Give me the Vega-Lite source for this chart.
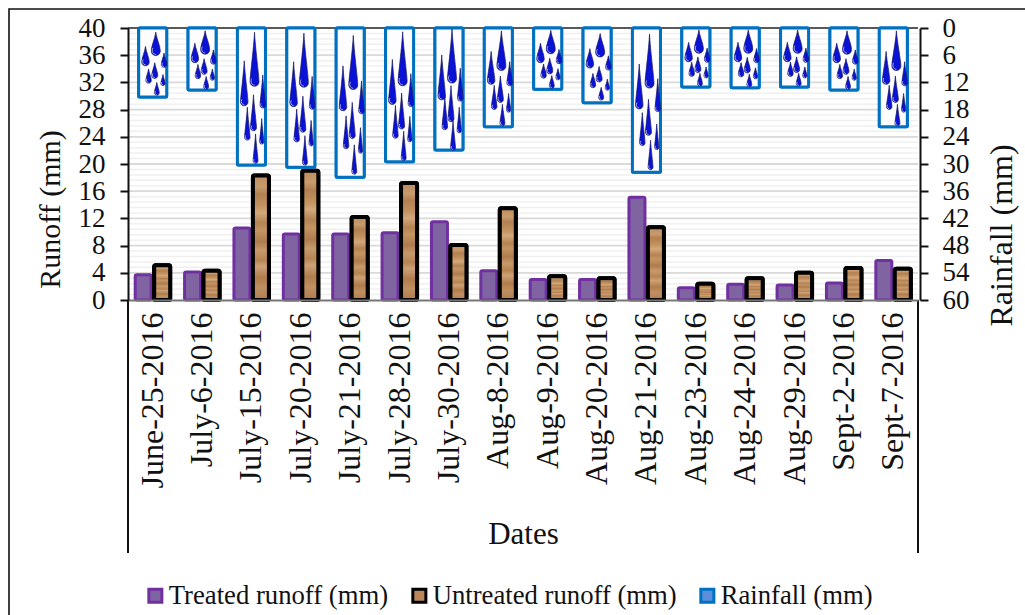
{
  "$schema": "https://vega.github.io/schema/vega-lite/v6.json",
  "width": 1018,
  "height": 608,
  "autosize": {"type": "none"},
  "padding": {"left": 9, "top": 9, "right": -2, "bottom": -2},
  "background": "white",
  "view": {"stroke": "#111111", "strokeWidth": 1.6, "fill": "white"},
  "config": {"font": "Liberation Serif"},
  "datasets": {
    "runoff": [
      {"date": "June-25-2016", "series": "Treated runoff (mm)", "runoff": 3.7},
      {"date": "July-6-2016", "series": "Treated runoff (mm)", "runoff": 4.1},
      {"date": "July-15-2016", "series": "Treated runoff (mm)", "runoff": 10.6},
      {"date": "July-20-2016", "series": "Treated runoff (mm)", "runoff": 9.7},
      {"date": "July-21-2016", "series": "Treated runoff (mm)", "runoff": 9.7},
      {"date": "July-28-2016", "series": "Treated runoff (mm)", "runoff": 9.9},
      {"date": "July-30-2016", "series": "Treated runoff (mm)", "runoff": 11.5},
      {"date": "Aug-8-2016", "series": "Treated runoff (mm)", "runoff": 4.3},
      {"date": "Aug-9-2016", "series": "Treated runoff (mm)", "runoff": 3.0},
      {"date": "Aug-20-2016", "series": "Treated runoff (mm)", "runoff": 3.0},
      {"date": "Aug-21-2016", "series": "Treated runoff (mm)", "runoff": 15.1},
      {"date": "Aug-23-2016", "series": "Treated runoff (mm)", "runoff": 1.8},
      {"date": "Aug-24-2016", "series": "Treated runoff (mm)", "runoff": 2.3},
      {"date": "Aug-29-2016", "series": "Treated runoff (mm)", "runoff": 2.2},
      {"date": "Sept-2-2016", "series": "Treated runoff (mm)", "runoff": 2.5},
      {"date": "Sept-7-2016", "series": "Treated runoff (mm)", "runoff": 5.8},
      {"date": "June-25-2016", "series": "Untreated runoff (mm)", "runoff": 5.1},
      {"date": "July-6-2016", "series": "Untreated runoff (mm)", "runoff": 4.3},
      {"date": "July-15-2016", "series": "Untreated runoff (mm)", "runoff": 18.3},
      {"date": "July-20-2016", "series": "Untreated runoff (mm)", "runoff": 19.0},
      {"date": "July-21-2016", "series": "Untreated runoff (mm)", "runoff": 12.2},
      {"date": "July-28-2016", "series": "Untreated runoff (mm)", "runoff": 17.2},
      {"date": "July-30-2016", "series": "Untreated runoff (mm)", "runoff": 8.1},
      {"date": "Aug-8-2016", "series": "Untreated runoff (mm)", "runoff": 13.5},
      {"date": "Aug-9-2016", "series": "Untreated runoff (mm)", "runoff": 3.5},
      {"date": "Aug-20-2016", "series": "Untreated runoff (mm)", "runoff": 3.2},
      {"date": "Aug-21-2016", "series": "Untreated runoff (mm)", "runoff": 10.7},
      {"date": "Aug-23-2016", "series": "Untreated runoff (mm)", "runoff": 2.4},
      {"date": "Aug-24-2016", "series": "Untreated runoff (mm)", "runoff": 3.2},
      {"date": "Aug-29-2016", "series": "Untreated runoff (mm)", "runoff": 4.0},
      {"date": "Sept-2-2016", "series": "Untreated runoff (mm)", "runoff": 4.7},
      {"date": "Sept-7-2016", "series": "Untreated runoff (mm)", "runoff": 4.6}
    ],
    "rain": [
      {"date": "June-25-2016", "series": "Rainfall (mm)", "rain": 15.2},
      {"date": "July-6-2016", "series": "Rainfall (mm)", "rain": 13.7},
      {"date": "July-15-2016", "series": "Rainfall (mm)", "rain": 30.2},
      {"date": "July-20-2016", "series": "Rainfall (mm)", "rain": 30.7},
      {"date": "July-21-2016", "series": "Rainfall (mm)", "rain": 32.9},
      {"date": "July-28-2016", "series": "Rainfall (mm)", "rain": 29.5},
      {"date": "July-30-2016", "series": "Rainfall (mm)", "rain": 26.9},
      {"date": "Aug-8-2016", "series": "Rainfall (mm)", "rain": 21.8},
      {"date": "Aug-9-2016", "series": "Rainfall (mm)", "rain": 13.5},
      {"date": "Aug-20-2016", "series": "Rainfall (mm)", "rain": 16.5},
      {"date": "Aug-21-2016", "series": "Rainfall (mm)", "rain": 31.8},
      {"date": "Aug-23-2016", "series": "Rainfall (mm)", "rain": 13.0},
      {"date": "Aug-24-2016", "series": "Rainfall (mm)", "rain": 13.2},
      {"date": "Aug-29-2016", "series": "Rainfall (mm)", "rain": 13.0},
      {"date": "Sept-2-2016", "series": "Rainfall (mm)", "rain": 13.7},
      {"date": "Sept-7-2016", "series": "Rainfall (mm)", "rain": 21.8}
    ],
    "drops": [
      {"date":"June-25-2016","drop":"A","depth":3.5,"intensity":"light"},{"date":"June-25-2016","drop":"B","depth":6.2,"intensity":"light"},{"date":"June-25-2016","drop":"C","depth":7.1,"intensity":"light"},{"date":"June-25-2016","drop":"D","depth":10.6,"intensity":"light"},{"date":"June-25-2016","drop":"E","depth":9.4,"intensity":"light"},{"date":"June-25-2016","drop":"F","depth":11.5,"intensity":"light"},{"date":"June-25-2016","drop":"G","depth":13.4,"intensity":"light"},
      {"date":"July-6-2016","drop":"A","depth":3.2,"intensity":"light"},{"date":"July-6-2016","drop":"B","depth":5.5,"intensity":"light"},{"date":"July-6-2016","drop":"C","depth":6.4,"intensity":"light"},{"date":"July-6-2016","drop":"D","depth":9.6,"intensity":"light"},{"date":"July-6-2016","drop":"E","depth":8.5,"intensity":"light"},{"date":"July-6-2016","drop":"F","depth":10.3,"intensity":"light"},{"date":"July-6-2016","drop":"G","depth":12.1,"intensity":"light"},
      {"date":"July-15-2016","drop":"A","depth":6.9,"intensity":"heavy"},{"date":"July-15-2016","drop":"B","depth":12.2,"intensity":"heavy"},{"date":"July-15-2016","drop":"C","depth":14.0,"intensity":"heavy"},{"date":"July-15-2016","drop":"D","depth":21.1,"intensity":"heavy"},{"date":"July-15-2016","drop":"E","depth":18.7,"intensity":"heavy"},{"date":"July-15-2016","drop":"F","depth":22.8,"intensity":"heavy"},{"date":"July-15-2016","drop":"G","depth":26.6,"intensity":"heavy"},
      {"date":"July-20-2016","drop":"A","depth":7.1,"intensity":"heavy"},{"date":"July-20-2016","drop":"B","depth":12.4,"intensity":"heavy"},{"date":"July-20-2016","drop":"C","depth":14.3,"intensity":"heavy"},{"date":"July-20-2016","drop":"D","depth":21.5,"intensity":"heavy"},{"date":"July-20-2016","drop":"E","depth":19.0,"intensity":"heavy"},{"date":"July-20-2016","drop":"F","depth":23.2,"intensity":"heavy"},{"date":"July-20-2016","drop":"G","depth":27.0,"intensity":"heavy"},
      {"date":"July-21-2016","drop":"A","depth":7.6,"intensity":"heavy"},{"date":"July-21-2016","drop":"B","depth":13.3,"intensity":"heavy"},{"date":"July-21-2016","drop":"C","depth":15.3,"intensity":"heavy"},{"date":"July-21-2016","drop":"D","depth":23.0,"intensity":"heavy"},{"date":"July-21-2016","drop":"E","depth":20.4,"intensity":"heavy"},{"date":"July-21-2016","drop":"F","depth":24.8,"intensity":"heavy"},{"date":"July-21-2016","drop":"G","depth":29.0,"intensity":"heavy"},
      {"date":"July-28-2016","drop":"A","depth":6.8,"intensity":"heavy"},{"date":"July-28-2016","drop":"B","depth":11.9,"intensity":"heavy"},{"date":"July-28-2016","drop":"C","depth":13.7,"intensity":"heavy"},{"date":"July-28-2016","drop":"D","depth":20.7,"intensity":"heavy"},{"date":"July-28-2016","drop":"E","depth":18.3,"intensity":"heavy"},{"date":"July-28-2016","drop":"F","depth":22.3,"intensity":"heavy"},{"date":"July-28-2016","drop":"G","depth":26.0,"intensity":"heavy"},
      {"date":"July-30-2016","drop":"A","depth":6.2,"intensity":"heavy"},{"date":"July-30-2016","drop":"B","depth":10.9,"intensity":"heavy"},{"date":"July-30-2016","drop":"C","depth":12.5,"intensity":"heavy"},{"date":"July-30-2016","drop":"D","depth":18.8,"intensity":"heavy"},{"date":"July-30-2016","drop":"E","depth":16.7,"intensity":"heavy"},{"date":"July-30-2016","drop":"F","depth":20.3,"intensity":"heavy"},{"date":"July-30-2016","drop":"G","depth":23.7,"intensity":"heavy"},
      {"date":"Aug-8-2016","drop":"A","depth":5.0,"intensity":"moderate"},{"date":"Aug-8-2016","drop":"B","depth":8.8,"intensity":"moderate"},{"date":"Aug-8-2016","drop":"C","depth":10.1,"intensity":"moderate"},{"date":"Aug-8-2016","drop":"D","depth":15.3,"intensity":"moderate"},{"date":"Aug-8-2016","drop":"E","depth":13.5,"intensity":"moderate"},{"date":"Aug-8-2016","drop":"F","depth":16.5,"intensity":"moderate"},{"date":"Aug-8-2016","drop":"G","depth":19.2,"intensity":"moderate"},
      {"date":"Aug-9-2016","drop":"A","depth":3.1,"intensity":"light"},{"date":"Aug-9-2016","drop":"B","depth":5.5,"intensity":"light"},{"date":"Aug-9-2016","drop":"C","depth":6.3,"intensity":"light"},{"date":"Aug-9-2016","drop":"D","depth":9.5,"intensity":"light"},{"date":"Aug-9-2016","drop":"E","depth":8.4,"intensity":"light"},{"date":"Aug-9-2016","drop":"F","depth":10.2,"intensity":"light"},{"date":"Aug-9-2016","drop":"G","depth":11.9,"intensity":"light"},
      {"date":"Aug-20-2016","drop":"A","depth":3.8,"intensity":"light"},{"date":"Aug-20-2016","drop":"B","depth":6.7,"intensity":"light"},{"date":"Aug-20-2016","drop":"C","depth":7.7,"intensity":"light"},{"date":"Aug-20-2016","drop":"D","depth":11.6,"intensity":"light"},{"date":"Aug-20-2016","drop":"E","depth":10.2,"intensity":"light"},{"date":"Aug-20-2016","drop":"F","depth":12.5,"intensity":"light"},{"date":"Aug-20-2016","drop":"G","depth":14.5,"intensity":"light"},
      {"date":"Aug-21-2016","drop":"A","depth":7.3,"intensity":"heavy"},{"date":"Aug-21-2016","drop":"B","depth":12.9,"intensity":"heavy"},{"date":"Aug-21-2016","drop":"C","depth":14.8,"intensity":"heavy"},{"date":"Aug-21-2016","drop":"D","depth":22.3,"intensity":"heavy"},{"date":"Aug-21-2016","drop":"E","depth":19.7,"intensity":"heavy"},{"date":"Aug-21-2016","drop":"F","depth":24.0,"intensity":"heavy"},{"date":"Aug-21-2016","drop":"G","depth":28.0,"intensity":"heavy"},
      {"date":"Aug-23-2016","drop":"A","depth":3.0,"intensity":"light"},{"date":"Aug-23-2016","drop":"B","depth":5.3,"intensity":"light"},{"date":"Aug-23-2016","drop":"C","depth":6.0,"intensity":"light"},{"date":"Aug-23-2016","drop":"D","depth":9.1,"intensity":"light"},{"date":"Aug-23-2016","drop":"E","depth":8.1,"intensity":"light"},{"date":"Aug-23-2016","drop":"F","depth":9.8,"intensity":"light"},{"date":"Aug-23-2016","drop":"G","depth":11.4,"intensity":"light"},
      {"date":"Aug-24-2016","drop":"A","depth":3.0,"intensity":"light"},{"date":"Aug-24-2016","drop":"B","depth":5.3,"intensity":"light"},{"date":"Aug-24-2016","drop":"C","depth":6.1,"intensity":"light"},{"date":"Aug-24-2016","drop":"D","depth":9.2,"intensity":"light"},{"date":"Aug-24-2016","drop":"E","depth":8.2,"intensity":"light"},{"date":"Aug-24-2016","drop":"F","depth":10.0,"intensity":"light"},{"date":"Aug-24-2016","drop":"G","depth":11.6,"intensity":"light"},
      {"date":"Aug-29-2016","drop":"A","depth":3.0,"intensity":"light"},{"date":"Aug-29-2016","drop":"B","depth":5.3,"intensity":"light"},{"date":"Aug-29-2016","drop":"C","depth":6.0,"intensity":"light"},{"date":"Aug-29-2016","drop":"D","depth":9.1,"intensity":"light"},{"date":"Aug-29-2016","drop":"E","depth":8.1,"intensity":"light"},{"date":"Aug-29-2016","drop":"F","depth":9.8,"intensity":"light"},{"date":"Aug-29-2016","drop":"G","depth":11.4,"intensity":"light"},
      {"date":"Sept-2-2016","drop":"A","depth":3.2,"intensity":"light"},{"date":"Sept-2-2016","drop":"B","depth":5.5,"intensity":"light"},{"date":"Sept-2-2016","drop":"C","depth":6.4,"intensity":"light"},{"date":"Sept-2-2016","drop":"D","depth":9.6,"intensity":"light"},{"date":"Sept-2-2016","drop":"E","depth":8.5,"intensity":"light"},{"date":"Sept-2-2016","drop":"F","depth":10.3,"intensity":"light"},{"date":"Sept-2-2016","drop":"G","depth":12.1,"intensity":"light"},
      {"date":"Sept-7-2016","drop":"A","depth":5.0,"intensity":"moderate"},{"date":"Sept-7-2016","drop":"B","depth":8.8,"intensity":"moderate"},{"date":"Sept-7-2016","drop":"C","depth":10.1,"intensity":"moderate"},{"date":"Sept-7-2016","drop":"D","depth":15.3,"intensity":"moderate"},{"date":"Sept-7-2016","drop":"E","depth":13.5,"intensity":"moderate"},{"date":"Sept-7-2016","drop":"F","depth":16.5,"intensity":"moderate"},{"date":"Sept-7-2016","drop":"G","depth":19.2,"intensity":"moderate"}
    ],
    "minorLevels": [
      {"level":0.8},{"level":1.6},{"level":2.4},{"level":3.2},{"level":4.8},{"level":5.6},{"level":6.4},{"level":7.2},
      {"level":8.8},{"level":9.6},{"level":10.4},{"level":11.2},{"level":12.8},{"level":13.6},{"level":14.4},{"level":15.2},
      {"level":16.8},{"level":17.6},{"level":18.4},{"level":19.2},{"level":20.8},{"level":21.6},{"level":22.4},{"level":23.2},
      {"level":24.8},{"level":25.6},{"level":26.4},{"level":27.2},{"level":28.8},{"level":29.6},{"level":30.4},{"level":31.2},
      {"level":32.8},{"level":33.6},{"level":34.4},{"level":35.2},{"level":36.8},{"level":37.6},{"level":38.4},{"level":39.2}
    ],
    "majorLevels": [
      {"level":4},{"level":8},{"level":12},{"level":16},{"level":20},{"level":24},{"level":28},{"level":32},{"level":36}
    ],
    "plotTop": [{"level":40}]
  },
  "layer": [
    {
      "data": {"name": "minorLevels"},
      "mark": {"type": "rule", "stroke": "#f0f0f0", "strokeWidth": 1.5},
      "encoding": {
        "x": {
          "datum": "June-25-2016",
          "type": "nominal",
          "bandPosition": 0,
          "scale": {
            "domain": ["June-25-2016","July-6-2016","July-15-2016","July-20-2016","July-21-2016","July-28-2016","July-30-2016","Aug-8-2016","Aug-9-2016","Aug-20-2016","Aug-21-2016","Aug-23-2016","Aug-24-2016","Aug-29-2016","Sept-2-2016","Sept-7-2016"],
            "range": [119, 909],
            "paddingInner": 0,
            "paddingOuter": 0
          },
          "axis": {
            "title": "Dates",
            "orient": "bottom",
            "offset": -317,
            "labelAngle": -90,
            "labelAlign": "right",
            "labelBaseline": "middle",
            "labelFontSize": 32,
            "labelColor": "#111111",
            "labelPadding": 12,
            "labelOverlap": false,
            "labelLimit": 300,
            "ticks": false,
            "domainColor": "#777777",
            "domainWidth": 2,
            "titleFontSize": 31,
            "titleFontWeight": "normal",
            "titleColor": "#111111",
            "titlePadding": 32,
            "grid": false,
            "zindex": 1
          }
        },
        "x2": {"datum": "Sept-7-2016", "bandPosition": 1},
        "y": {"field": "level", "type": "quantitative", "scale": {"domain": [0, 40], "range": [291, 19], "nice": false}, "axis": null}
      }
    },
    {
      "data": {"name": "majorLevels"},
      "mark": {"type": "rule", "stroke": "#d9d9d9", "strokeWidth": 1.8},
      "encoding": {
        "x": {"datum": "June-25-2016", "type": "nominal", "bandPosition": 0},
        "x2": {"datum": "Sept-7-2016", "bandPosition": 1},
        "y": {"field": "level", "type": "quantitative", "scale": {"domain": [0, 40], "range": [291, 19], "nice": false}, "axis": null}
      }
    },
    {
      "data": {"name": "plotTop"},
      "mark": {"type": "rule", "stroke": "#222222", "strokeWidth": 1.5},
      "encoding": {
        "x": {"datum": "June-25-2016", "type": "nominal", "bandPosition": 0},
        "x2": {"datum": "Sept-7-2016", "bandPosition": 1},
        "y": {"field": "level", "type": "quantitative", "scale": {"domain": [0, 40], "range": [291, 19], "nice": false}, "axis": null}
      }
    },
    {
      "data": {"name": "runoff"},
      "mark": {"type": "bar", "width": 16, "cornerRadius": 1.5, "strokeJoin": "round"},
      "encoding": {
        "x": {"field": "date", "type": "nominal", "sort": null},
        "xOffset": {"field": "series", "type": "nominal", "sort": null, "scale": {"domain": ["Treated runoff (mm)", "Untreated runoff (mm)"], "paddingInner": 0, "paddingOuter": 0.3}},
        "y": {
          "field": "runoff",
          "type": "quantitative",
          "stack": null,
          "scale": {"domain": [0, 40], "range": [291, 19], "nice": false},
          "axis": {
            "title": "Runoff (mm)",
            "orient": "left",
            "offset": -119,
            "values": [0,4,8,12,16,20,24,28,32,36,40],
            "grid": false,
            "domainColor": "#111111",
            "domainWidth": 2,
            "tickColor": "#111111",
            "tickWidth": 2,
            "tickSize": 8,
            "labelFontSize": 27,
            "labelColor": "#111111",
            "labelPadding": 15,
            "titleFontSize": 30,
            "titleFontWeight": "normal",
            "titleColor": "#111111",
            "titleX": -78,
            "titleY": 200,
            "titleAlign": "center",
            "titleBaseline": "middle",
            "zindex": 1
          }
        },
        "fill": {
          "field": "series",
          "type": "nominal",
          "scale": {
            "domain": ["Treated runoff (mm)", "Untreated runoff (mm)", "Rainfall (mm)"],
            "range": ["#8064A2", "#B9875A", "#5B8FDD"]
          },
          "legend": {
            "title": null,
            "orient": "none",
            "legendX": 133,
            "legendY": 573,
            "direction": "horizontal",
            "columns": 3,
            "columnPadding": 17,
            "symbolType": "square",
            "symbolSize": 170,
            "symbolStrokeWidth": 3,
            "labelFontSize": 26.7,
            "labelColor": "#111111",
            "labelOffset": 0,
            "labelLimit": 320
          }
        },
        "stroke": {
          "field": "series",
          "type": "nominal",
          "scale": {
            "domain": ["Treated runoff (mm)", "Untreated runoff (mm)", "Rainfall (mm)"],
            "range": ["#7030A0", "#000000", "#0070C0"]
          }
        },
        "strokeWidth": {
          "field": "series",
          "type": "nominal",
          "legend": null,
          "scale": {"type": "ordinal", "domain": ["Treated runoff (mm)", "Untreated runoff (mm)"], "range": [3, 4]}
        }
      }
    },
    {
      "data": {"name": "runoff"},
      "transform": [{"filter": "datum.series === 'Untreated runoff (mm)'"}],
      "mark": {
        "type": "bar",
        "width": 16,
        "cornerRadius": 1.5,
        "strokeJoin": "round",
        "stroke": "#000000",
        "strokeWidth": 4,
        "fill": {"gradient": "linear", "x1": 0, "y1": 0, "x2": 0, "y2": 1, "stops": [
          {"offset": 0, "color": "#BC8B5E"}, {"offset": 0.09, "color": "#C99C6C"}, {"offset": 0.15, "color": "#B28052"},
          {"offset": 0.24, "color": "#C3925F"}, {"offset": 0.3, "color": "#D2A87C"}, {"offset": 0.38, "color": "#B58353"},
          {"offset": 0.44, "color": "#C49562"}, {"offset": 0.53, "color": "#AE7B4D"}, {"offset": 0.6, "color": "#C79A6B"},
          {"offset": 0.68, "color": "#B78452"}, {"offset": 0.73, "color": "#CDA277"}, {"offset": 0.82, "color": "#B07C4C"},
          {"offset": 0.9, "color": "#C19060"}, {"offset": 1, "color": "#AE7C50"}
        ]}
      },
      "encoding": {
        "x": {"field": "date", "type": "nominal", "sort": null},
        "xOffset": {"field": "series", "type": "nominal", "sort": null, "scale": {"domain": ["Treated runoff (mm)", "Untreated runoff (mm)"], "paddingInner": 0, "paddingOuter": 0.3}},
        "y": {"field": "runoff", "type": "quantitative", "stack": null, "scale": {"domain": [0, 40], "range": [291, 19], "nice": false}, "axis": null}
      }
    },
    {
      "data": {"name": "rain"},
      "mark": {"type": "bar", "width": 28, "strokeWidth": 3, "cornerRadius": 1},
      "encoding": {
        "x": {"field": "date", "type": "nominal", "sort": null},
        "y": {
          "field": "rain",
          "type": "quantitative",
          "stack": null,
          "scale": {"domain": [0, 60], "range": [19, 291], "nice": false},
          "axis": {
            "title": "Rainfall (mm)",
            "orient": "right",
            "offset": -107,
            "values": [0,6,12,18,24,30,36,42,48,54,60],
            "grid": false,
            "domainColor": "#111111",
            "domainWidth": 2,
            "tickColor": "#111111",
            "tickWidth": 2,
            "tickSize": 8,
            "labelFontSize": 27,
            "labelColor": "#111111",
            "labelPadding": 14,
            "titleFontSize": 32,
            "titleFontWeight": "normal",
            "titleColor": "#111111",
            "titleAngle": 270,
            "titleX": 81,
            "titleY": 226,
            "titleAlign": "center",
            "titleBaseline": "middle",
            "zindex": 1
          }
        },
        "fill": {"field": "series", "type": "nominal"},
        "stroke": {"field": "series", "type": "nominal"}
      }
    },
    {
      "data": {"name": "rain"},
      "mark": {"type": "bar", "width": 28, "stroke": "#0070C0", "strokeWidth": 3, "cornerRadius": 1, "fill": "#FDFDFF"},
      "encoding": {
        "x": {"field": "date", "type": "nominal", "sort": null},
        "y": {"field": "rain", "type": "quantitative", "stack": null, "scale": {"domain": [0, 60], "range": [19, 291], "nice": false}, "axis": null}
      }
    },
    {
      "data": {"name": "drops"},
      "mark": {"type": "point", "filled": true, "fill": "#0A12D6", "stroke": "#15155F", "strokeWidth": 0.7, "opacity": 1},
      "encoding": {
        "x": {"field": "date", "type": "nominal", "sort": null},
        "xOffset": {
          "field": "drop",
          "type": "nominal",
          "scale": {
            "paddingInner": 0,
            "paddingOuter": 0,
            "domain": ["s0","s1","s2","s3","s4","s5","s6","s7","s8","s9","s10","s11","s12","s13","s14","s15","s16","B","s18","s19","D","s21","s22","s23","s24","s25","E","A","G","s29","s30","s31","s32","s33","F","C","s36","s37","s38","s39","s40","s41","s42","s43","s44","s45","s46","s47","s48"]
          }
        },
        "y": {"field": "depth", "type": "quantitative", "scale": {"domain": [0, 60], "range": [19, 291], "nice": false}, "axis": null},
        "size": {
          "field": "drop",
          "type": "nominal",
          "legend": null,
          "scale": {"type": "ordinal", "domain": ["A","B","C","D","E","F","G"], "range": [81, 56, 30, 30, 36, 18, 24]}
        },
        "shape": {
          "field": "intensity",
          "type": "nominal",
          "legend": null,
          "scale": {
            "domain": ["light", "moderate", "heavy"],
            "range": [
              "M0,-2.6C.15,-1.2 1,.4 1,1.6A1,1 0 1 1 -1,1.6C-1,.4 -.15,-1.2 0,-2.6Z",
              "M0,-4.4C.15,-2 1,2.2 1,3.4A1,1 0 1 1 -1,3.4C-1,2.2 -.15,-2 0,-4.4Z",
              "M0,-6C.15,-2.7 1,3.8 1,5A1,1 0 1 1 -1,5C-1,3.8 -.15,-2.7 0,-6Z"
            ]
          }
        }
      }
    },
    {
      "data": {"name": "drops"},
      "mark": {"type": "point", "filled": false, "stroke": "#B4B8D8", "strokeWidth": 0.9, "opacity": 1},
      "encoding": {
        "x": {"field": "date", "type": "nominal", "sort": null},
        "xOffset": {
          "field": "drop",
          "type": "nominal",
          "scale": {
            "paddingInner": 0,
            "paddingOuter": 0,
            "domain": ["s0","s1","s2","s3","s4","s5","s6","s7","s8","s9","s10","s11","s12","s13","s14","s15","s16","B","s18","s19","D","s21","s22","s23","s24","s25","E","A","G","s29","s30","s31","s32","s33","F","C","s36","s37","s38","s39","s40","s41","s42","s43","s44","s45","s46","s47","s48"]
          }
        },
        "y": {"field": "depth", "type": "quantitative", "scale": {"domain": [0, 60], "range": [19, 291], "nice": false}, "axis": null},
        "size": {
          "field": "drop",
          "type": "nominal",
          "legend": null,
          "scale": {"type": "ordinal", "domain": ["A","B","C","D","E","F","G"], "range": [81, 56, 30, 30, 36, 18, 24]}
        },
        "shape": {
          "field": "intensity",
          "type": "nominal",
          "legend": null,
          "scale": {
            "domain": ["light", "moderate", "heavy"],
            "range": [
              "M-.65,.9C-.95,1.6 -.7,2.3 0,2.35",
              "M-.65,2.7C-.95,3.4 -.7,4.1 0,4.15",
              "M-.65,4.3C-.95,5 -.7,5.7 0,5.75"
            ]
          }
        }
      }
    },
    {
      "data": {"name": "rain"},
      "transform": [{"filter": "datum.date === 'June-25-2016'"}],
      "mark": {"type": "rule", "stroke": "#111111", "strokeWidth": 2},
      "encoding": {
        "x": {"field": "date", "type": "nominal", "bandPosition": 0},
        "y": {"datum": 0, "type": "quantitative", "scale": {"domain": [0, 40], "range": [291, 19], "nice": false}, "axis": null},
        "y2": {"datum": -37.2}
      }
    },
    {
      "data": {"name": "rain"},
      "transform": [{"filter": "datum.date === 'Sept-7-2016'"}],
      "mark": {"type": "rule", "stroke": "#111111", "strokeWidth": 2},
      "encoding": {
        "x": {"field": "date", "type": "nominal", "bandPosition": 1},
        "y": {"datum": 0, "type": "quantitative", "scale": {"domain": [0, 40], "range": [291, 19], "nice": false}, "axis": null},
        "y2": {"datum": -37.2}
      }
    }
  ],
  "resolve": {
    "scale": {"y": "independent", "xOffset": "independent", "size": "independent", "shape": "independent"},
    "axis": {"y": "independent"}
  }
}
